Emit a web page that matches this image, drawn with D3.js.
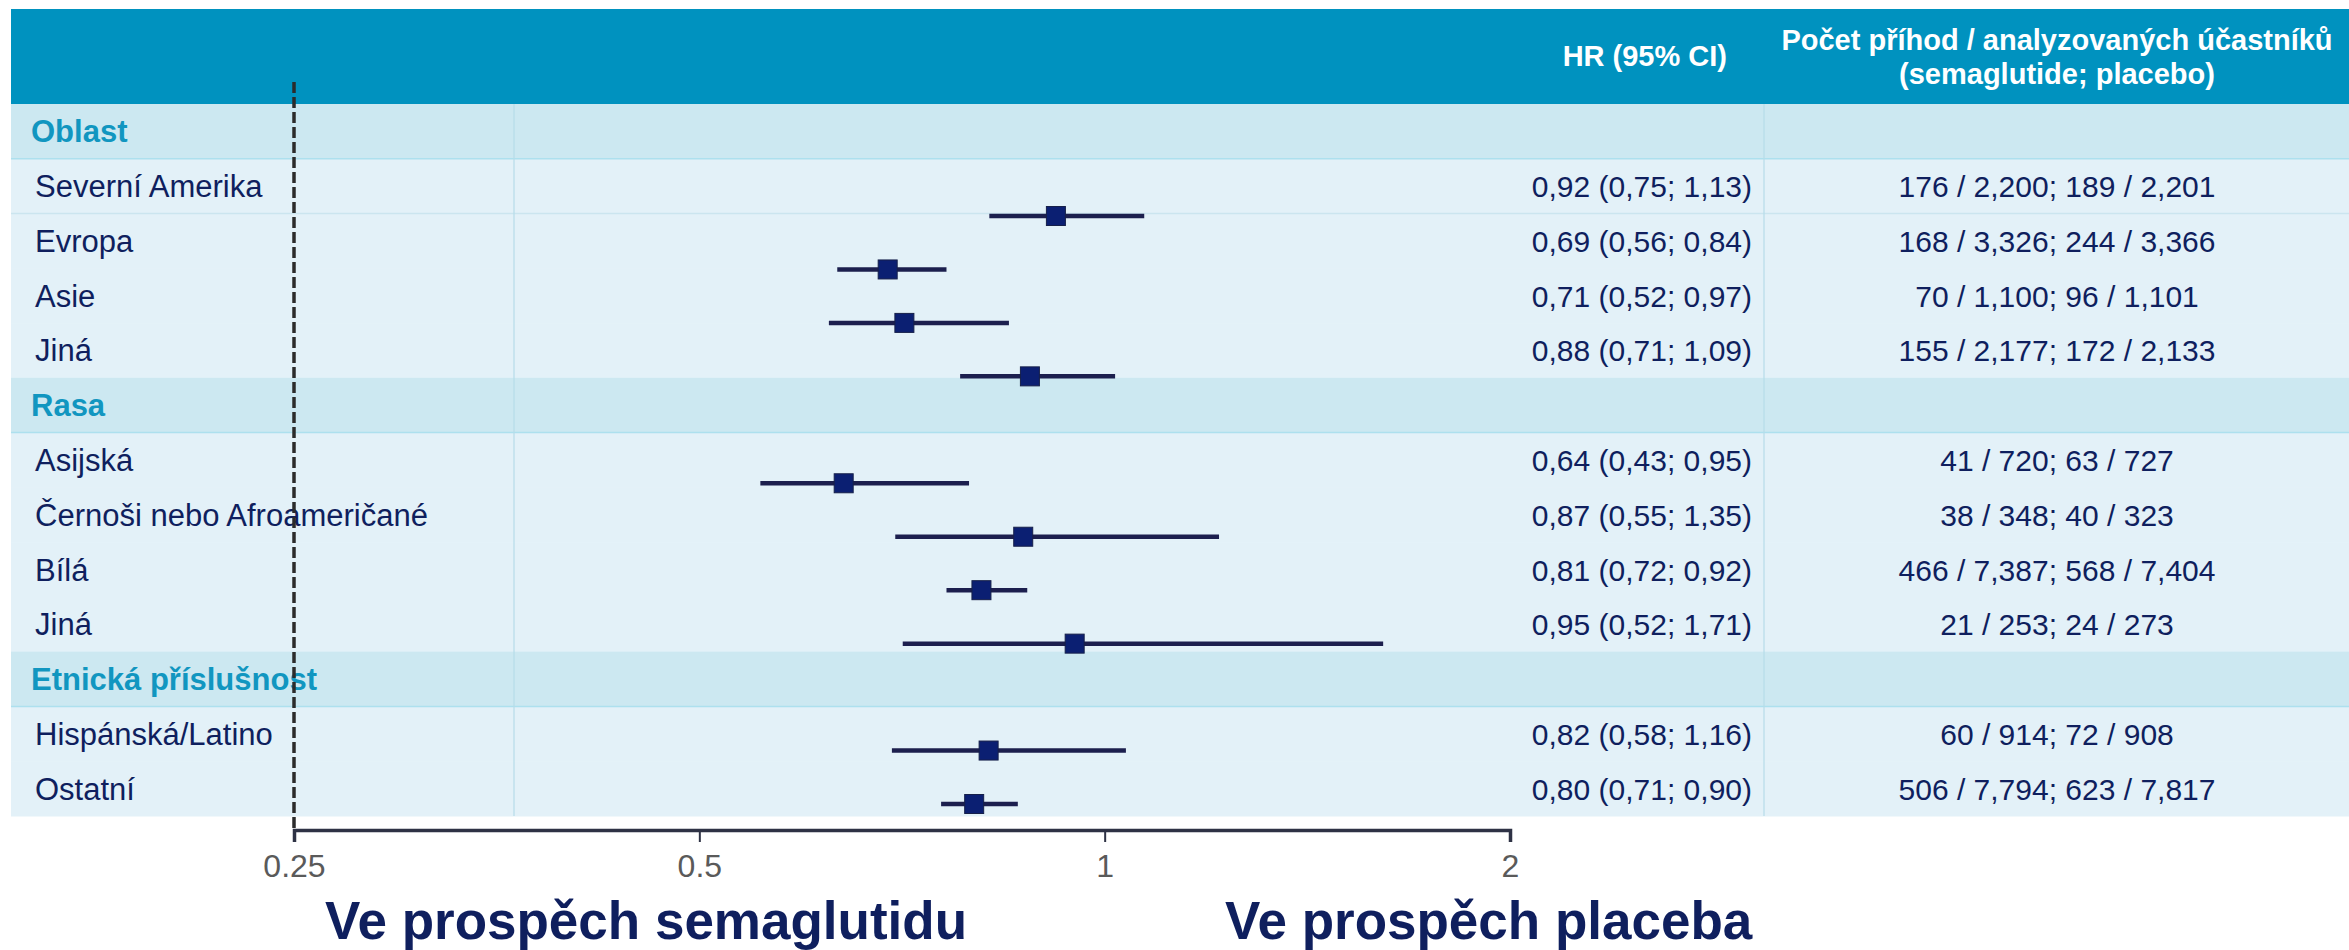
<!DOCTYPE html>
<html><head><meta charset="utf-8">
<script src="https://cdn.jsdelivr.net/npm/d3@7"></script>
<style>
body{margin:0;background:#fff}
svg{display:block}
text{font-family:"Liberation Sans",Arial,Helvetica,sans-serif}
</style>
</head><body>
<svg id="chart" width="2349" height="950"></svg>
<script>
// ---------- data ----------
const rowLabels = ["Oblast","Severní Amerika","Evropa","Asie","Jiná","Rasa","Asijská","Černoši nebo Afroameričané","Bílá","Jiná","Etnická příslušnost","Hispánská/Latino","Ostatní"];
const rowIsGroup = [true,false,false,false,false,true,false,false,false,false,true,false,false];
const hr = [null,0.92,0.69,0.71,0.88,null,0.64,0.87,0.81,0.95,null,0.82,0.80];
// whisker ends as drawn in the picture
const whiskerLow  = [null,0.821,0.633,0.624,0.781,null,0.555,0.699,0.763,0.708,null,0.695,0.756];
const whiskerHigh = [null,1.070,0.763,0.849,1.018,null,0.793,1.216,0.876,1.610,null,1.037,0.862];
const hrText = ["","0,92 (0,75; 1,13)","0,69 (0,56; 0,84)","0,71 (0,52; 0,97)","0,88 (0,71; 1,09)","","0,64 (0,43; 0,95)","0,87 (0,55; 1,35)","0,81 (0,72; 0,92)","0,95 (0,52; 1,71)","","0,82 (0,58; 1,16)","0,80 (0,71; 0,90)"];
const countText = ["","176 / 2,200; 189 / 2,201","168 / 3,326; 244 / 3,366","70 / 1,100; 96 / 1,101","155 / 2,177; 172 / 2,133","","41 / 720; 63 / 727","38 / 348; 40 / 323","466 / 7,387; 568 / 7,404","21 / 253; 24 / 273","","60 / 914; 72 / 908","506 / 7,794; 623 / 7,817"];
const tickValues = [0.25,0.5,1,2];
const tickLabels = ["0.25","0.5","1","2"];
const headerHR = "HR (95% CI)";
const headerCounts = ["Počet příhod / analyzovaných účastníků","(semaglutide; placebo)"];
const favourLeft = "Ve prospěch semaglutidu";
const favourRight = "Ve prospěch placeba";
const refValue = 0.25;

// ---------- styles ----------
const C = {
  header:"#0092bf", groupBg:"#cce8f1", itemBg:"#e3f1f8", groupText:"#1196c0",
  navy:"#0f1f5e", line:"#1c1f4e", marker:"#0b1f72", sep:"#b6dce9"
};

const svg = d3.select("#chart");
const W = 2349;
const tableLeft = 11, headerTop = 9, headerBottom = 104, tableBottom = 816;

const yRow = d3.scaleBand().domain(d3.range(rowLabels.length)).range([headerBottom, tableBottom]);
const yPlot = d3.scaleLinear().domain([1, rowLabels.length-1]).range([216, 804]);
const x = d3.scaleLog().base(2).domain([0.25, 2]).range([294, 1510]);

// header
svg.append("rect").attr("x",tableLeft).attr("y",headerTop).attr("width",W-tableLeft).attr("height",headerBottom-headerTop).attr("fill",C.header);

// rows
const rows = svg.append("g");
rows.selectAll("rect").data(rowLabels).join("rect")
  .attr("x",tableLeft).attr("y",(d,i)=>yRow(i)).attr("width",W-tableLeft).attr("height",yRow.bandwidth()+0.5)
  .attr("fill",(d,i)=>rowIsGroup[i]?C.groupBg:C.itemBg);

// horizontal separators (under group rows, and the faint one after the first item)
rows.selectAll("line.h").data(rowLabels.map((d,i)=>i).filter(i=>rowIsGroup[i] || i===1)).join("line")
  .attr("class","h").attr("x1",tableLeft).attr("x2",W)
  .attr("y1",i=>yRow(i)+yRow.bandwidth()).attr("y2",i=>yRow(i)+yRow.bandwidth())
  .attr("stroke",i=>rowIsGroup[i]?"#ade0ee":"#cbe5ef").attr("stroke-width",1.5);

// vertical separators
[514,1764].forEach(vx=>{
  svg.append("line").attr("x1",vx).attr("x2",vx).attr("y1",headerBottom).attr("y2",tableBottom)
    .attr("stroke",C.sep).attr("stroke-width",1.2);
});

// row labels
svg.append("g").selectAll("text").data(rowLabels).join("text")
  .attr("x",(d,i)=>rowIsGroup[i]?31:35)
  .attr("y",(d,i)=>yRow(i)+yRow.bandwidth()/2+11)
  .attr("font-size",31)
  .attr("font-weight",(d,i)=>rowIsGroup[i]?"bold":"normal")
  .attr("fill",(d,i)=>rowIsGroup[i]?C.groupText:C.navy)
  .text(d=>d);

// HR text
svg.append("g").selectAll("text").data(hrText).join("text")
  .attr("x",1752).attr("text-anchor","end")
  .attr("y",(d,i)=>yRow(i)+yRow.bandwidth()/2+11)
  .attr("font-size",30).attr("fill",C.navy).text(d=>d);

// counts text
svg.append("g").selectAll("text").data(countText).join("text")
  .attr("x",2057).attr("text-anchor","middle")
  .attr("y",(d,i)=>yRow(i)+yRow.bandwidth()/2+11)
  .attr("font-size",30).attr("fill",C.navy).text(d=>d);

// header texts
svg.append("text").attr("x",1727).attr("y",66).attr("text-anchor","end")
  .attr("font-size",29).attr("font-weight","bold").attr("fill","#fff").text(headerHR);
svg.append("g").selectAll("text").data(headerCounts).join("text")
  .attr("x",2057).attr("y",(d,i)=>50+i*34).attr("text-anchor","middle")
  .attr("font-size",29).attr("font-weight","bold").attr("fill","#fff").text(d=>d);

// reference dashed line
svg.append("line").attr("x1",x(refValue)).attr("x2",x(refValue)).attr("y1",82).attr("y2",830)
  .attr("stroke","#2b2b2b").attr("stroke-width",3.5).attr("stroke-dasharray","11,4");

// axis
const axis = d3.axisBottom(x).tickValues(tickValues).tickFormat((d,i)=>tickLabels[i]).tickSize(12).tickPadding(12);
const gAxis = svg.append("g").attr("transform","translate(0,830)").call(axis);
gAxis.select(".domain").attr("stroke","#2e3245").attr("stroke-width",3.5);
gAxis.selectAll(".tick line").attr("stroke","#2e3245").attr("stroke-width",2);
gAxis.selectAll(".tick text").attr("font-size",32).attr("fill","#5a5a5a")
  .attr("font-family","'Liberation Sans',Arial,sans-serif");

// whiskers & markers
const plotIdx = hr.map((d,i)=>i).filter(i=>hr[i]!==null);
const plot = svg.append("g");
plot.selectAll("line").data(plotIdx).join("line")
  .attr("x1",i=>x(whiskerLow[i])).attr("x2",i=>x(whiskerHigh[i]))
  .attr("y1",i=>yPlot(i)).attr("y2",i=>yPlot(i))
  .attr("stroke",C.line).attr("stroke-width",4.5);
const ms = 19;
plot.selectAll("rect").data(plotIdx).join("rect")
  .attr("x",i=>x(hr[i])-ms/2).attr("y",i=>yPlot(i)-ms/2)
  .attr("width",ms).attr("height",ms)
  .attr("fill",C.marker).attr("stroke","#16204a").attr("stroke-width",1);

// favour labels
svg.append("text").attr("x",325).attr("y",939).attr("font-size",53).attr("font-weight","bold").attr("fill",C.navy).text(favourLeft);
svg.append("text").attr("x",1225).attr("y",939).attr("font-size",53).attr("font-weight","bold").attr("fill",C.navy).text(favourRight);
</script>
</body></html>
